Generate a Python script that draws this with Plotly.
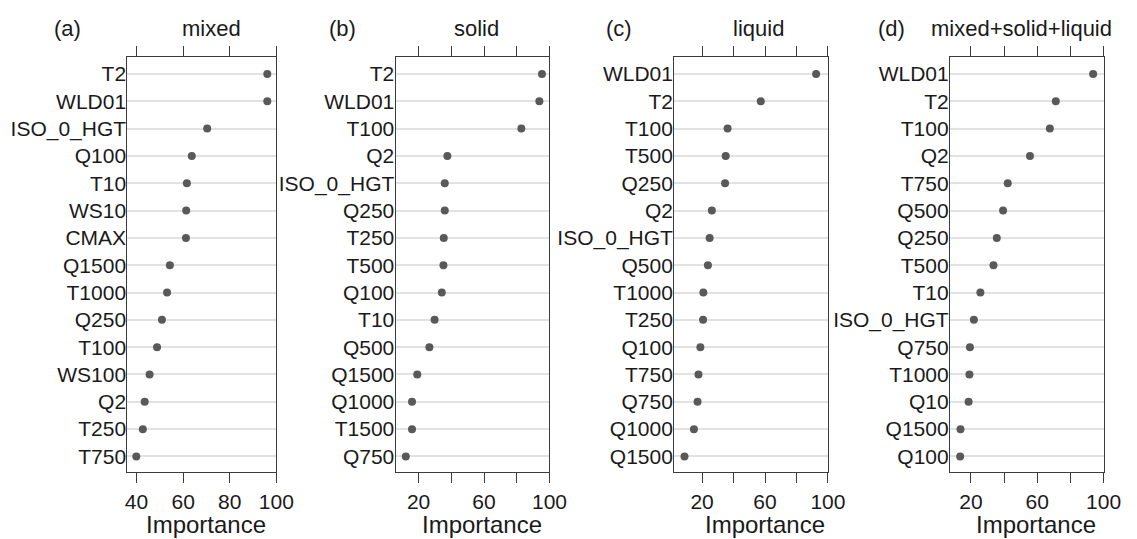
import plotly.graph_objects as go

# ---------------- data ----------------
mixed_vars = ["T2", "WLD01", "ISO_0_HGT", "Q100", "T10", "WS10", "CMAX", "Q1500",
              "T1000", "Q250", "T100", "WS100", "Q2", "T250", "T750"]
mixed_imp = [96.1, 96.1, 70.3, 63.7, 61.6, 61.3, 61.2, 54.3, 53.1, 50.9, 48.8,
             45.6, 43.5, 42.7, 39.9]

solid_vars = ["T2", "WLD01", "T100", "Q2", "ISO_0_HGT", "Q250", "T250", "T500",
              "Q100", "T10", "Q500", "Q1500", "Q1000", "T1500", "Q750"]
solid_imp = [95.4, 93.8, 82.8, 37.6, 36.0, 36.0, 35.4, 35.2, 34.2, 29.8, 26.6,
             19.2, 16.0, 16.0, 12.2]

liquid_vars = ["WLD01", "T2", "T100", "T500", "Q250", "Q2", "ISO_0_HGT", "Q500",
               "T1000", "T250", "Q100", "T750", "Q750", "Q1000", "Q1500"]
liquid_imp = [92.5, 57.3, 36.2, 35.0, 34.6, 26.2, 24.8, 23.7, 20.8, 20.6, 18.9,
              17.7, 17.1, 14.8, 8.8]

all_vars = ["WLD01", "T2", "T100", "Q2", "T750", "Q500", "Q250", "T500", "T10",
            "ISO_0_HGT", "Q750", "T1000", "Q10", "Q1500", "Q100"]
all_imp = [93.7, 71.2, 67.6, 55.6, 42.2, 39.4, 35.6, 33.6, 25.7, 21.8, 19.4,
           19.1, 18.6, 13.7, 13.5]

panel_titles = ["mixed", "solid", "liquid", "mixed+solid+liquid"]
panel_tags = ["(a)", "(b)", "(c)", "(d)"]
x_ranges = [[36.1, 100], [6.0, 100], [2.3, 100], [7.4, 100]]
tick_vals = [[40, 60, 80, 100], [20, 40, 60, 80, 100], [20, 40, 60, 80, 100],
             [20, 40, 60, 80, 100]]
tick_text = [["40", "60", "80", "100"], ["20", "", "60", "", "100"],
             ["20", "", "60", "", "100"], ["20", "", "60", "", "100"]]
x_label = "Importance"

# ---------------- layout geometry ----------------
W, H = 1137, 539
frames_px = [(127.7, 279.3), (400.7, 557.3), (684.3, 840.7), (965.0, 1121.3)]
top_px, bot_px = 57.3, 472.3
title_cx = [213.3, 483.0, 769.8, 1038.0]
tag_cx = [67.0, 347.0, 628.0, 905.0]
imp_cx = [208.0, 488.3, 776.7, 1052.8]

FONT = "Liberation Sans, Arial, sans-serif"
DOT = "#595959"
LINE = "#3c3c3c"
GRID = "#e2e2e2"

panels = [(mixed_vars, mixed_imp), (solid_vars, solid_imp),
          (liquid_vars, liquid_imp), (all_vars, all_imp)]

fig = go.Figure()
layout = dict(
    width=W, height=H,
    margin=dict(l=0, r=0, t=0, b=0),
    paper_bgcolor="white", plot_bgcolor="white",
    showlegend=False,
    font=dict(family=FONT, size=21, color="#1a1a1a"),
)
annotations = []

for i, (vars_, imp) in enumerate(panels):
    n = i + 1
    xa = "x" if n == 1 else f"x{n}"
    ya = "y" if n == 1 else f"y{n}"
    fig.add_trace(go.Scatter(
        x=imp, y=vars_, mode="markers", xaxis=xa, yaxis=ya,
        marker=dict(size=8, color=DOT), hoverinfo="x+y",
    ))
    l, r = frames_px[i]
    dom_x = [l / W, r / W]
    dom_y = [1 - bot_px / H, 1 - top_px / H]
    layout["xaxis" if n == 1 else f"xaxis{n}"] = dict(
        domain=dom_x, anchor=ya, range=x_ranges[i],
        tickvals=tick_vals[i], ticktext=tick_text[i],
        ticks="outside", ticklen=10, tickwidth=1.3, tickcolor=LINE,
        showline=True, linecolor=LINE, linewidth=1.3, mirror="ticks",
        showgrid=False, zeroline=False,
        tickfont=dict(size=21, family=FONT, color="#1a1a1a"),
    )
    nv = len(vars_)
    layout["yaxis" if n == 1 else f"yaxis{n}"] = dict(
        domain=dom_y, anchor=xa,
        type="category", categoryorder="array", categoryarray=vars_,
        range=[nv - 1 + 0.58, -0.61],
        showline=True, linecolor=LINE, linewidth=1.3, mirror=True,
        showgrid=True, gridcolor=GRID, gridwidth=1.5,
        ticks="", ticklen=0, ticklabelstandoff=-4, zeroline=False,
        tickfont=dict(size=21, family=FONT, color="#1a1a1a"),
    )
    annotations.append(dict(
        text=panel_titles[i], x=title_cx[i] / W, y=1 - 28 / H,
        xref="paper", yref="paper", xanchor="center", yanchor="middle",
        showarrow=False, font=dict(size=22, family=FONT, color="#1a1a1a"),
    ))
    annotations.append(dict(
        text=panel_tags[i], x=tag_cx[i] / W, y=1 - 28 / H,
        xref="paper", yref="paper", xanchor="center", yanchor="middle",
        showarrow=False, font=dict(size=22, family=FONT, color="#1a1a1a"),
    ))
    annotations.append(dict(
        text=x_label, x=imp_cx[i] / W, y=1 - 524 / H,
        xref="paper", yref="paper", xanchor="center", yanchor="middle",
        showarrow=False, font=dict(size=24, family=FONT, color="#1a1a1a"),
    ))

layout["annotations"] = annotations
fig.update_layout(**layout)
fig.write_html(
    "out.html",
    config={"displayModeBar": False},
    post_script="document.body.style.margin='0';document.body.style.padding='0';"
                "document.documentElement.style.overflow='hidden';",
)
